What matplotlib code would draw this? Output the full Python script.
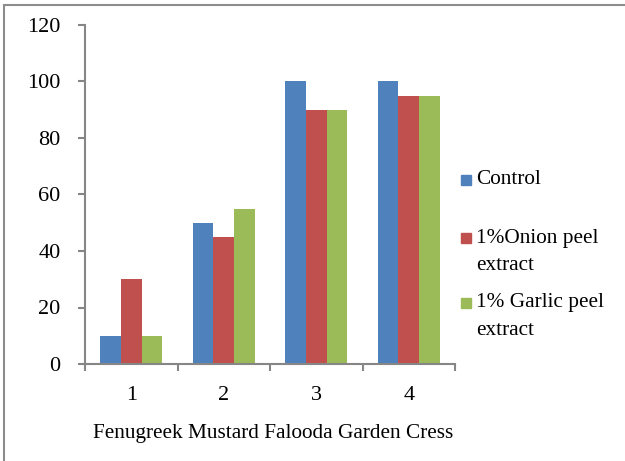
import matplotlib
matplotlib.use("Agg")
import matplotlib.pyplot as plt
from matplotlib.patches import Rectangle
import numpy as np

categories = ["1", "2", "3", "4"]
series_names = ["Control", "1%Onion peel\nextract", "1% Garlic peel\nextract"]
control = [10, 50, 100, 100]
onion = [30, 45, 90, 95]
garlic = [10, 55, 90, 95]
colors = ["#4F81BD", "#C0504D", "#9BBB59"]
xlabel = "Fenugreek Mustard Falooda Garden Cress"
yticks = [0, 20, 40, 60, 80, 100, 120]

plt.rcParams['font.family'] = ['Liberation Serif', 'DejaVu Serif']

W, H = 625, 461
fig = plt.figure(figsize=(W / 100, H / 100), dpi=100)
ax = fig.add_axes([85 / W, 1 - 364 / H, 370 / W, 339 / H])

x = np.arange(len(categories))
bw = 0.223
for i, vals in enumerate([control, onion, garlic]):
    ax.bar(x + (i - 1) * bw, vals, width=bw, color=colors[i], edgecolor='none')

ax.set_xlim(-0.5, len(categories) - 0.5)
ax.set_ylim(0, 120)
ax.set_yticks(yticks)
ax.set_yticklabels([str(v) for v in yticks])

ax.set_xticks(x)
ax.set_xticklabels(categories)
ax.set_xticks(np.arange(len(categories) + 1) - 0.5, minor=True)
ax.tick_params(axis='x', which='major', length=0, pad=16, labelsize=16)
ax.tick_params(axis='x', which='minor', length=5, width=1.5, color='#868686', direction='out')
ax.tick_params(axis='y', which='major', length=5, width=1.5, color='#868686', pad=12.5, labelsize=16)

for s in ['top', 'right']:
    ax.spines[s].set_visible(False)
for s in ['left', 'bottom']:
    ax.spines[s].set_color('#868686')
    ax.spines[s].set_linewidth(1.5)

fig.text(273 / W, 1 - 433 / H, xlabel, ha='center', va='center', fontsize=15.3)

# legend (manual, Excel-like placement)
leg_rows = [180, 238, 303]
for name, col, yy in zip(series_names, colors, leg_rows):
    fig.patches.append(Rectangle((461 / W, 1 - (yy + 5) / H), 10 / W, 10 / H,
                                 transform=fig.transFigure, color=col))
    lines = name.split("\n")
    for j, ln in enumerate(lines):
        fig.text(476 / W, 1 - (yy + j * 27) / H, ln, ha='left', va='center', fontsize=15.3)

# outer frame (only top and left visible)
fig.patches.append(Rectangle((4 / W, -0.1), 1.2, 1 - 5 / H + 0.1, transform=fig.transFigure,
                             fill=False, edgecolor='#8c8c8c', linewidth=1.5))

fig.savefig("out.png", dpi=100)
